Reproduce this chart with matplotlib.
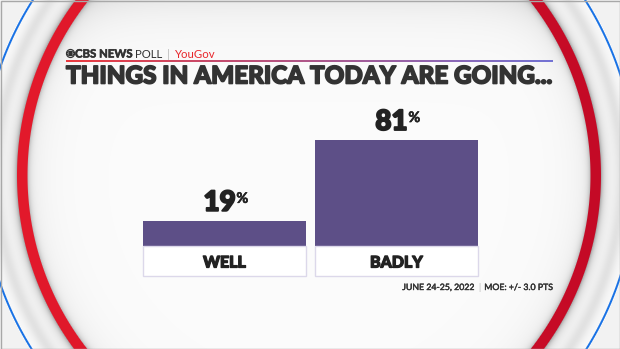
import numpy as np
import matplotlib
matplotlib.use("Agg")
import matplotlib.pyplot as plt
import matplotlib.patheffects as pe
from matplotlib.patches import Rectangle, Circle, Ellipse
from matplotlib.collections import LineCollection

# ---- data -------------------------------------------------------------
categories = ["WELL", "BADLY"]
values = [19, 81]
title = "THINGS IN AMERICA TODAY ARE GOING..."
brand = "CBS NEWS"
brand_poll = "POLL"
partner = "YouGov"
fieldwork = "JUNE 24-25, 2022"
margin = "MOE: +/- 3.0 PTS"

plt.rcParams["font.family"] = ["Lato", "DejaVu Sans"]

W, H = 620, 349
fig = plt.figure(figsize=(W / 100, H / 100), dpi=100)
bg = fig.add_axes([0, 0, 1, 1])
bg.set_xlim(0, W)
bg.set_ylim(H, 0)
bg.axis("off")


def heavy(width, color):
    return [pe.withStroke(linewidth=width, foreground=color)]


# ---- ring backdrop ----------------------------------------------------
yy, xx = np.mgrid[0:H, 0:W] + 0.5
cx, cy = 309.0, 175.5
dx, dy = xx - cx, yy - cy
r = np.hypot(dx, dy)
side = (dx / np.maximum(r, 1e-6) + 1) / 2  # 0 on the left, 1 on the right


def band(rr, a, b):
    return np.clip(rr - a + 0.5, 0, 1) * np.clip(b - rr + 0.5, 0, 1)


r_in, r_out = 281.5, 292.0
d_in = np.maximum(r_in - r, 0)
g_in = (0.985 - 0.20 * np.exp(-d_in / 2.5) - 0.06 * np.exp(-d_in / 18)
        - 0.07 * np.exp(-yy / 22))
d_out = np.maximum(r - r_out, 0)
g_out = (0.975 - 0.25 * np.exp(-d_out / 2.5) - 0.09 * np.exp(-d_out / 9)
         - 0.08 * np.exp(-((d_out - 21) / 6.5) ** 2))
g_out = np.where(r > 329, 0.95, g_out)
grey = np.where(r < (r_in + r_out) / 2, g_in, g_out)

img = np.repeat(grey[..., None], 3, axis=2)
red_l = np.array([0.89, 0.10, 0.17])
red_r = np.array([0.77, 0.04, 0.15])
red = red_l * (1 - side[..., None]) + red_r * side[..., None]
m_red = band(r, r_in, r_out)[..., None]
img = img * (1 - m_red) + red * m_red
blue = np.array([0.10, 0.45, 0.90])
m_blue = band(r, 326.2, 328.2)[..., None]
img = img * (1 - m_blue) + blue * m_blue
img = np.clip(img, 0, 1)

bg.imshow(img, extent=(0, W, H, 0), interpolation="nearest", aspect="auto", zorder=0)
bg.set_xlim(0, W)
bg.set_ylim(H, 0)
bg.add_patch(Rectangle((0.5, 0.5), W - 1, H - 1, fill=False, ec="#a8a8a8", lw=1, zorder=5))

renderer = fig.canvas.get_renderer()

# ---- header -----------------------------------------------------------
ex, ey = 70.5, 53.5
bg.add_patch(Circle((ex, ey), 4.0, fill=False, ec="#333333", lw=0.9, zorder=3))
bg.add_patch(Ellipse((ex, ey), 7.2, 4.2, fill=False, ec="#333333", lw=0.8, zorder=3))
bg.add_patch(Circle((ex, ey), 1.5, color="#333333", zorder=3))


def text_row(x, y, pieces):
    for s, gap, kw in pieces:
        t = bg.text(x, y, s, ha="left", va="baseline", zorder=4, **kw)
        x = t.get_window_extent(renderer).x1 + gap
    return x


text_row(75, 57.5, [
    (brand, 2.5, dict(fontsize=8.2, fontweight="bold", color="#333333",
                      path_effects=heavy(0.4, "#333333"))),
    (brand_poll, 5, dict(fontsize=8.2, color="#333333")),
    ("|", 5, dict(fontsize=8.2, color="#b8b8b8")),
    (partner, 0, dict(fontsize=8.2, color="#e8262b")),
])

# gradient rule under the header
xs = np.linspace(66, 553, 120)
segs = [[(xs[i], 61), (xs[i + 1], 61)] for i in range(len(xs) - 1)]
tt = np.linspace(0, 1, len(segs))[:, None]
cols = np.array([0.91, 0.15, 0.17]) * (1 - tt) + np.array([0.40, 0.40, 0.82]) * tt
bg.add_collection(LineCollection(segs, colors=cols, linewidths=1.3, zorder=3))

# title, fitted between the rule ends
t = bg.text(66, 83.5, title, ha="left", va="baseline", fontsize=18,
            fontweight="black", color="#333333", zorder=4,
            path_effects=heavy(1.2, "#333333"))
w = t.get_window_extent(renderer).width
t.set_fontsize(18 * 486 / w)

# footer
t1 = bg.text(426, 290, fieldwork, fontsize=6.3, color="#333333", va="baseline", zorder=4,
             path_effects=heavy(0.3, "#333333"))
x1 = t1.get_window_extent(renderer).x1 + 4
t2 = bg.text(x1, 290, "|", fontsize=6.3, color="#b8b8b8", va="baseline", zorder=4)
x2 = t2.get_window_extent(renderer).x1 + 4
t3 = bg.text(x2, 290, margin, fontsize=6.3, color="#333333", va="baseline", zorder=4,
             path_effects=heavy(0.3, "#333333"))
shift = 553 - t3.get_window_extent(renderer).x1
for tx in (t1, t2, t3):
    px, py = tx.get_position()
    tx.set_position((px + shift, py))

# ---- bars -------------------------------------------------------------
ax = fig.add_axes([143 / W, (H - 276) / H, 335 / W, (276 - 115.7) / H])
ax.set_facecolor("none")
bw = 0.948
xpos = np.arange(len(categories))
ax.bar(xpos, values, width=bw, color="#5d4f87", zorder=2)
ax.set_xlim(-bw / 2, len(categories) - 1 + bw / 2)
ax.set_ylim(-23, 100)
ax.axis("off")

for i, (cat, v) in enumerate(zip(categories, values)):
    ax.add_patch(Rectangle((i - bw / 2, -23), bw, 23, fc="white", ec="#dcd8ea",
                           lw=1, clip_on=False, zorder=2))
    ax.text(i, -11.5, cat, ha="center", va="center_baseline", fontsize=11.5,
            fontweight="black", color="#222222", zorder=3,
            path_effects=heavy(0.9, "#222222"))
    num = ax.annotate(f"{v}", xy=(i, v), xytext=(11.0 * 0.72, 10.5 * 0.72),
                      textcoords="offset points", ha="right", va="baseline",
                      fontsize=20, fontweight="black", color="#222222",
                      annotation_clip=False, path_effects=heavy(1.4, "#222222"))
    ax.annotate("%", xy=(1, 1), xycoords=num, xytext=(0.6, -1.5),
                textcoords="offset points", ha="left", va="top",
                fontsize=10.5, fontweight="bold", color="#222222",
                path_effects=heavy(0.4, "#222222"))

fig.savefig("out.png", dpi=100)
